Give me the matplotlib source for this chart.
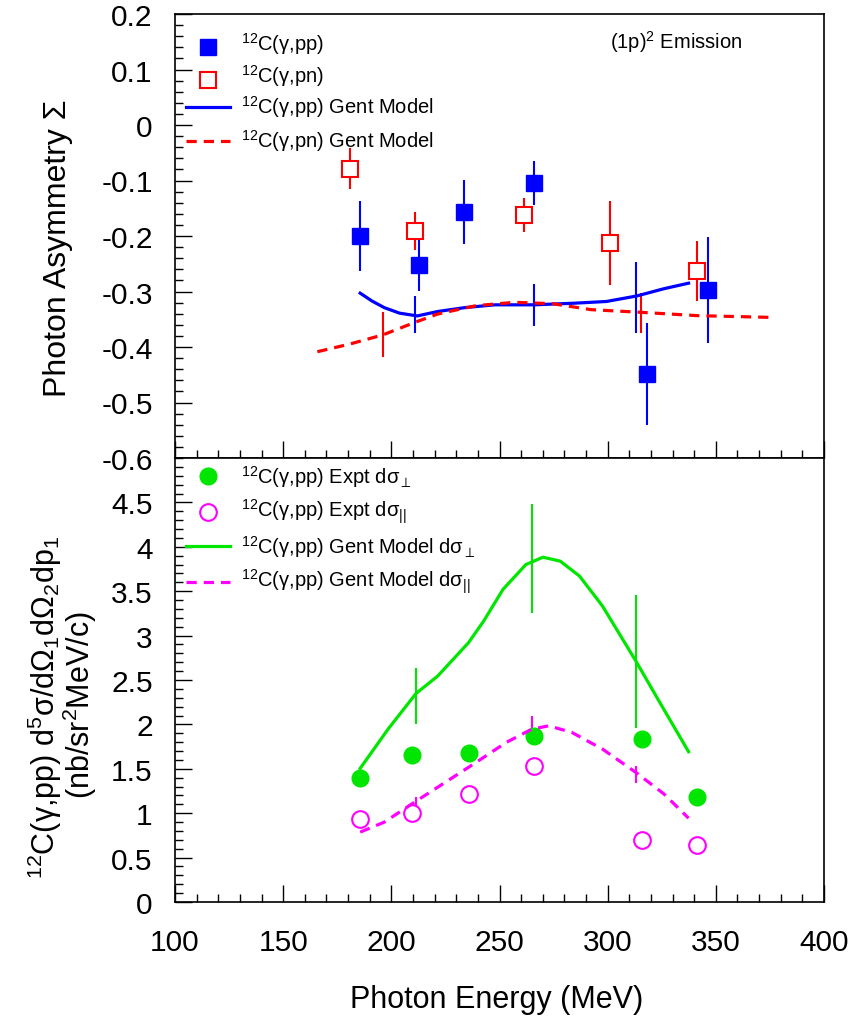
import matplotlib
matplotlib.use("Agg")
import matplotlib.pyplot as plt
from matplotlib.ticker import MultipleLocator, FixedLocator

plt.rcParams['font.family'] = ['Liberation Sans', 'DejaVu Sans']
plt.rcParams['mathtext.fontset'] = 'custom'
plt.rcParams['mathtext.rm'] = 'Liberation Sans'
plt.rcParams['mathtext.it'] = 'Liberation Sans:italic'
plt.rcParams['mathtext.bf'] = 'Liberation Sans:bold'
plt.rcParams['mathtext.sf'] = 'Liberation Sans'
plt.rcParams['axes.unicode_minus'] = False

# ---------------- Top panel: photon asymmetry ----------------
pp_E = [185.6, 212.7, 233.7, 266.0, 318.3, 346.2]
pp_sigma = [-0.200, -0.252, -0.157, -0.104, -0.449, -0.297]
pp_err = [0.063, 0.047, 0.058, 0.040, 0.092, 0.096]

pn_E = [180.7, 210.9, 261.1, 301.1, 341.3]
pn_sigma = [-0.079, -0.191, -0.162, -0.213, -0.263]
pn_err = [0.037, 0.035, 0.030, 0.076, 0.054]

gent_pp_E = [185.6, 191.0, 196.7, 203.8, 212.0, 221.5, 234.0, 248.0, 266.0,
             285.0, 299.4, 313.5, 326.0, 337.4]
gent_pp_sigma = [-0.303, -0.317, -0.329, -0.339, -0.344, -0.336, -0.329,
                 -0.324, -0.324, -0.321, -0.318, -0.308, -0.295, -0.285]
gent_pp_barE = [210.9, 266.0, 313.0]
gent_pp_barC = [-0.342, -0.325, -0.310]
gent_pp_barErr = [0.033, 0.038, 0.064]

gent_pn_E = [165.8, 180.9, 196.2, 210.9, 221.5, 239.2, 256.9, 274.6, 292.3,
             315.3, 341.5, 375.0]
gent_pn_sigma = [-0.4085, -0.3946, -0.378, -0.3556, -0.3405, -0.3255, -0.3195,
                 -0.322, -0.3327, -0.3375, -0.3435, -0.3466]
gent_pn_barE = [196.2, 315.3]
gent_pn_barC = [-0.3775, -0.339]
gent_pn_barErr = [0.040, 0.036]

# ---------------- Bottom panel: cross sections ----------------
perp_E = [185.6, 209.7, 235.9, 265.8, 316.0, 341.3]
perp_xs = [1.40, 1.655, 1.68, 1.87, 1.835, 1.18]
perp_err = [0.04, 0.04, 0.04, 0.05, 0.09, 0.04]

para_E = [185.6, 209.7, 235.9, 265.8, 316.0, 341.3]
para_xs = [0.936, 1.00, 1.217, 1.528, 0.70, 0.644]
para_err = [0.04, 0.04, 0.04, 0.04, 0.09, 0.04]

gent_perp_E = [185.6, 198.5, 211.4, 221.5, 235.7, 242.7, 251.6, 262.2, 270.1,
               278.1, 287.0, 297.6, 313.0, 324.1, 337.4]
gent_perp_xs = [1.505, 1.947, 2.348, 2.546, 2.921, 3.164, 3.52, 3.80, 3.883,
                3.838, 3.67, 3.333, 2.715, 2.247, 1.692]
gent_perp_barE = [211.4, 265.0, 313.0]
gent_perp_barC = [2.315, 3.87, 2.71]
gent_perp_barErr = [0.315, 0.61, 0.745]

gent_para_E = [185.6, 196.7, 211.4, 235.7, 253.2, 265.0, 272.8, 283.4, 297.6,
               313.0, 326.0, 337.4]
gent_para_xs = [0.787, 0.899, 1.135, 1.517, 1.798, 1.947, 1.984, 1.91, 1.722,
                1.46, 1.217, 0.944]
gent_para_barE = [211.4, 265.0, 313.0]
gent_para_barC = [1.12, 1.975, 1.434]
gent_para_barErr = [0.06, 0.12, 0.094]

x_ticks = [100, 150, 200, 250, 300, 350, 400]
top_ticks = [-0.6, -0.5, -0.4, -0.3, -0.2, -0.1, 0, 0.1, 0.2]
top_ticklabels = ['-0.6', '-0.5', '-0.4', '-0.3', '-0.2', '-0.1', '0', '0.1', '0.2']
bot_ticks = [0, 0.5, 1, 1.5, 2, 2.5, 3, 3.5, 4, 4.5]
bot_ticklabels = ['0', '0.5', '1', '1.5', '2', '2.5', '3', '3.5', '4', '4.5']

BLUE = '#0000ff'
RED = '#ff0000'
GREEN = '#00e600'
MAGENTA = '#ff00ff'

W, H = 857, 1020
fig = plt.figure(figsize=(W / 100, H / 100), dpi=100)
L, R = 175, 824
ax1 = fig.add_axes([L / W, 1 - 459 / H, (R - L) / W, 444 / H])
ax2 = fig.add_axes([L / W, 1 - 903 / H, (R - L) / W, 444 / H])

TICK_FS = 21.5
for ax in (ax1, ax2):
    ax.set_xlim(100, 400)
    ax.xaxis.set_major_locator(FixedLocator(x_ticks))
    ax.xaxis.set_minor_locator(MultipleLocator(10))
    ax.tick_params(axis='both', which='both', direction='in', top=False, right=False,
                   labelsize=TICK_FS, width=1.0)
    ax.tick_params(axis='both', which='major', length=12)
    ax.tick_params(axis='both', which='minor', length=6)
    ax.tick_params(axis='y', which='both', pad=16)
    ax.tick_params(axis='x', which='both', pad=19)
    for s in ax.spines.values():
        s.set_linewidth(1.2)

ax1.set_ylim(-0.6, 0.2)
ax1.yaxis.set_major_locator(FixedLocator(top_ticks))
ax1.set_yticklabels(top_ticklabels)
ax1.yaxis.set_minor_locator(MultipleLocator(0.02))
ax1.tick_params(axis='x', labelbottom=False)

ax2.set_ylim(0, 5.0)
ax2.yaxis.set_major_locator(FixedLocator(bot_ticks))
ax2.set_yticklabels(bot_ticklabels)
ax2.yaxis.set_minor_locator(MultipleLocator(0.1))
ax2.set_xticklabels([str(t) for t in x_ticks])

# ---- top panel drawing ----
ax1.errorbar(gent_pp_barE, gent_pp_barC, yerr=gent_pp_barErr, fmt='none',
             ecolor=BLUE, elinewidth=1.5, capsize=0, zorder=2)
ax1.errorbar(gent_pn_barE, gent_pn_barC, yerr=gent_pn_barErr, fmt='none',
             ecolor=RED, elinewidth=1.5, capsize=0, zorder=2)
ax1.errorbar(pp_E, pp_sigma, yerr=pp_err, fmt='none', ecolor=BLUE,
             elinewidth=1.5, capsize=0, zorder=2)
ax1.errorbar(pn_E, pn_sigma, yerr=pn_err, fmt='none', ecolor=RED,
             elinewidth=1.5, capsize=0, zorder=2)
ax1.plot(pp_E, pp_sigma, ls='none', marker='s', ms=11.5, color=BLUE, zorder=3)
ax1.plot(pn_E, pn_sigma, ls='none', marker='s', ms=11.5, mfc='white', mec=RED,
         mew=1.5, zorder=3)
ax1.plot(gent_pp_E, gent_pp_sigma, color=BLUE, lw=2.3, zorder=4)
ax1.plot(gent_pn_E, gent_pn_sigma, color=RED, lw=2.3, ls=(0, (3.2, 2.2)), zorder=4)

# ---- bottom panel drawing ----
ax2.errorbar(gent_perp_barE, gent_perp_barC, yerr=gent_perp_barErr, fmt='none',
             ecolor=GREEN, elinewidth=1.5, capsize=0, zorder=2)
ax2.errorbar(gent_para_barE, gent_para_barC, yerr=gent_para_barErr, fmt='none',
             ecolor=MAGENTA, elinewidth=1.5, capsize=0, zorder=2)
ax2.errorbar(perp_E, perp_xs, yerr=perp_err, fmt='none', ecolor=GREEN,
             elinewidth=1.5, capsize=0, zorder=2)
ax2.errorbar(para_E, para_xs, yerr=para_err, fmt='none', ecolor=MAGENTA,
             elinewidth=1.5, capsize=0, zorder=2)
ax2.plot(perp_E, perp_xs, ls='none', marker='o', ms=12, color=GREEN, zorder=3)
ax2.plot(para_E, para_xs, ls='none', marker='o', ms=12, mfc='white', mec=MAGENTA,
         mew=1.5, zorder=3)
ax2.plot(gent_perp_E, gent_perp_xs, color=GREEN, lw=2.3, zorder=4)
ax2.plot(gent_para_E, gent_para_xs, color=MAGENTA, lw=2.3, ls=(0, (3.2, 2.2)), zorder=4)

# ---- legends (drawn in pixel layout coordinates) ----
def fx(px):
    return (px - L) / (R - L)

def fy1(py):
    return (459 - py) / 444

def fy2(py):
    return (903 - py) / 444

LEG_FS = 14.5
mk_x, ln_x0, ln_x1, txt_x = 208, 186, 230, 241

def leg_marker(ax, fy, py, **kw):
    ax.plot([fx(mk_x)], [fy(py)], transform=ax.transAxes, ls='none',
            clip_on=False, **kw)

def leg_line(ax, fy, py, **kw):
    ax.plot([fx(ln_x0), fx(ln_x1)], [fy(py), fy(py)], transform=ax.transAxes,
            clip_on=False, **kw)

def leg_text(ax, fy, py, s):
    ax.text(fx(txt_x), fy(py), s, transform=ax.transAxes, fontsize=LEG_FS,
            ha='left', va='center')

leg_marker(ax1, fy1, 48, marker='s', ms=11, color=BLUE)
leg_text(ax1, fy1, 44, r'$^{12}$C(γ,pp)')
leg_marker(ax1, fy1, 81, marker='s', ms=11, mfc='white', mec=RED, mew=1.5)
leg_text(ax1, fy1, 76, r'$^{12}$C(γ,pn)')
leg_line(ax1, fy1, 108, color=BLUE, lw=2.3)
leg_text(ax1, fy1, 107, r'$^{12}$C(γ,pp) Gent Model')
leg_line(ax1, fy1, 142, color=RED, lw=2.3, ls=(0, (3.2, 2.2)))
leg_text(ax1, fy1, 141, r'$^{12}$C(γ,pn) Gent Model')
ax1.text(fx(610), fy1(42), r'(1p)$^2$ Emission', transform=ax1.transAxes,
         fontsize=14.5, ha='left', va='center')

leg_marker(ax2, fy2, 477, marker='o', ms=12, color=GREEN)
leg_text(ax2, fy2, 477, r'$^{12}$C(γ,pp) Expt dσ$_{\perp}$')
leg_marker(ax2, fy2, 513, marker='o', ms=12, mfc='white', mec=MAGENTA, mew=1.5)
leg_text(ax2, fy2, 512, r'$^{12}$C(γ,pp) Expt dσ$_{||}$')
leg_line(ax2, fy2, 547, color=GREEN, lw=2.3)
leg_text(ax2, fy2, 547, r'$^{12}$C(γ,pp) Gent Model dσ$_{\perp}$')
leg_line(ax2, fy2, 583, color=MAGENTA, lw=2.3, ls=(0, (3.2, 2.2)))
leg_text(ax2, fy2, 582, r'$^{12}$C(γ,pp) Gent Model dσ$_{||}$')

# ---- axis titles ----
fig.text(497 / W, 1 - 1000 / H, 'Photon Energy (MeV)', fontsize=22,
         ha='center', va='center')
fig.text(58 / W, 1 - 248 / H, 'Photon Asymmetry Σ', fontsize=23,
         rotation=90, ha='center', va='center')
fig.text(45 / W, 1 - 707 / H, r'$^{12}$C(γ,pp) d$^5$σ/dΩ$_1$dΩ$_2$dp$_1$',
         fontsize=22, rotation=90, ha='center', va='center')
fig.text(80 / W, 1 - 705 / H, r'(nb/sr$^2$MeV/c)', fontsize=22,
         rotation=90, ha='center', va='center')

fig.savefig('out.png', dpi=100)
